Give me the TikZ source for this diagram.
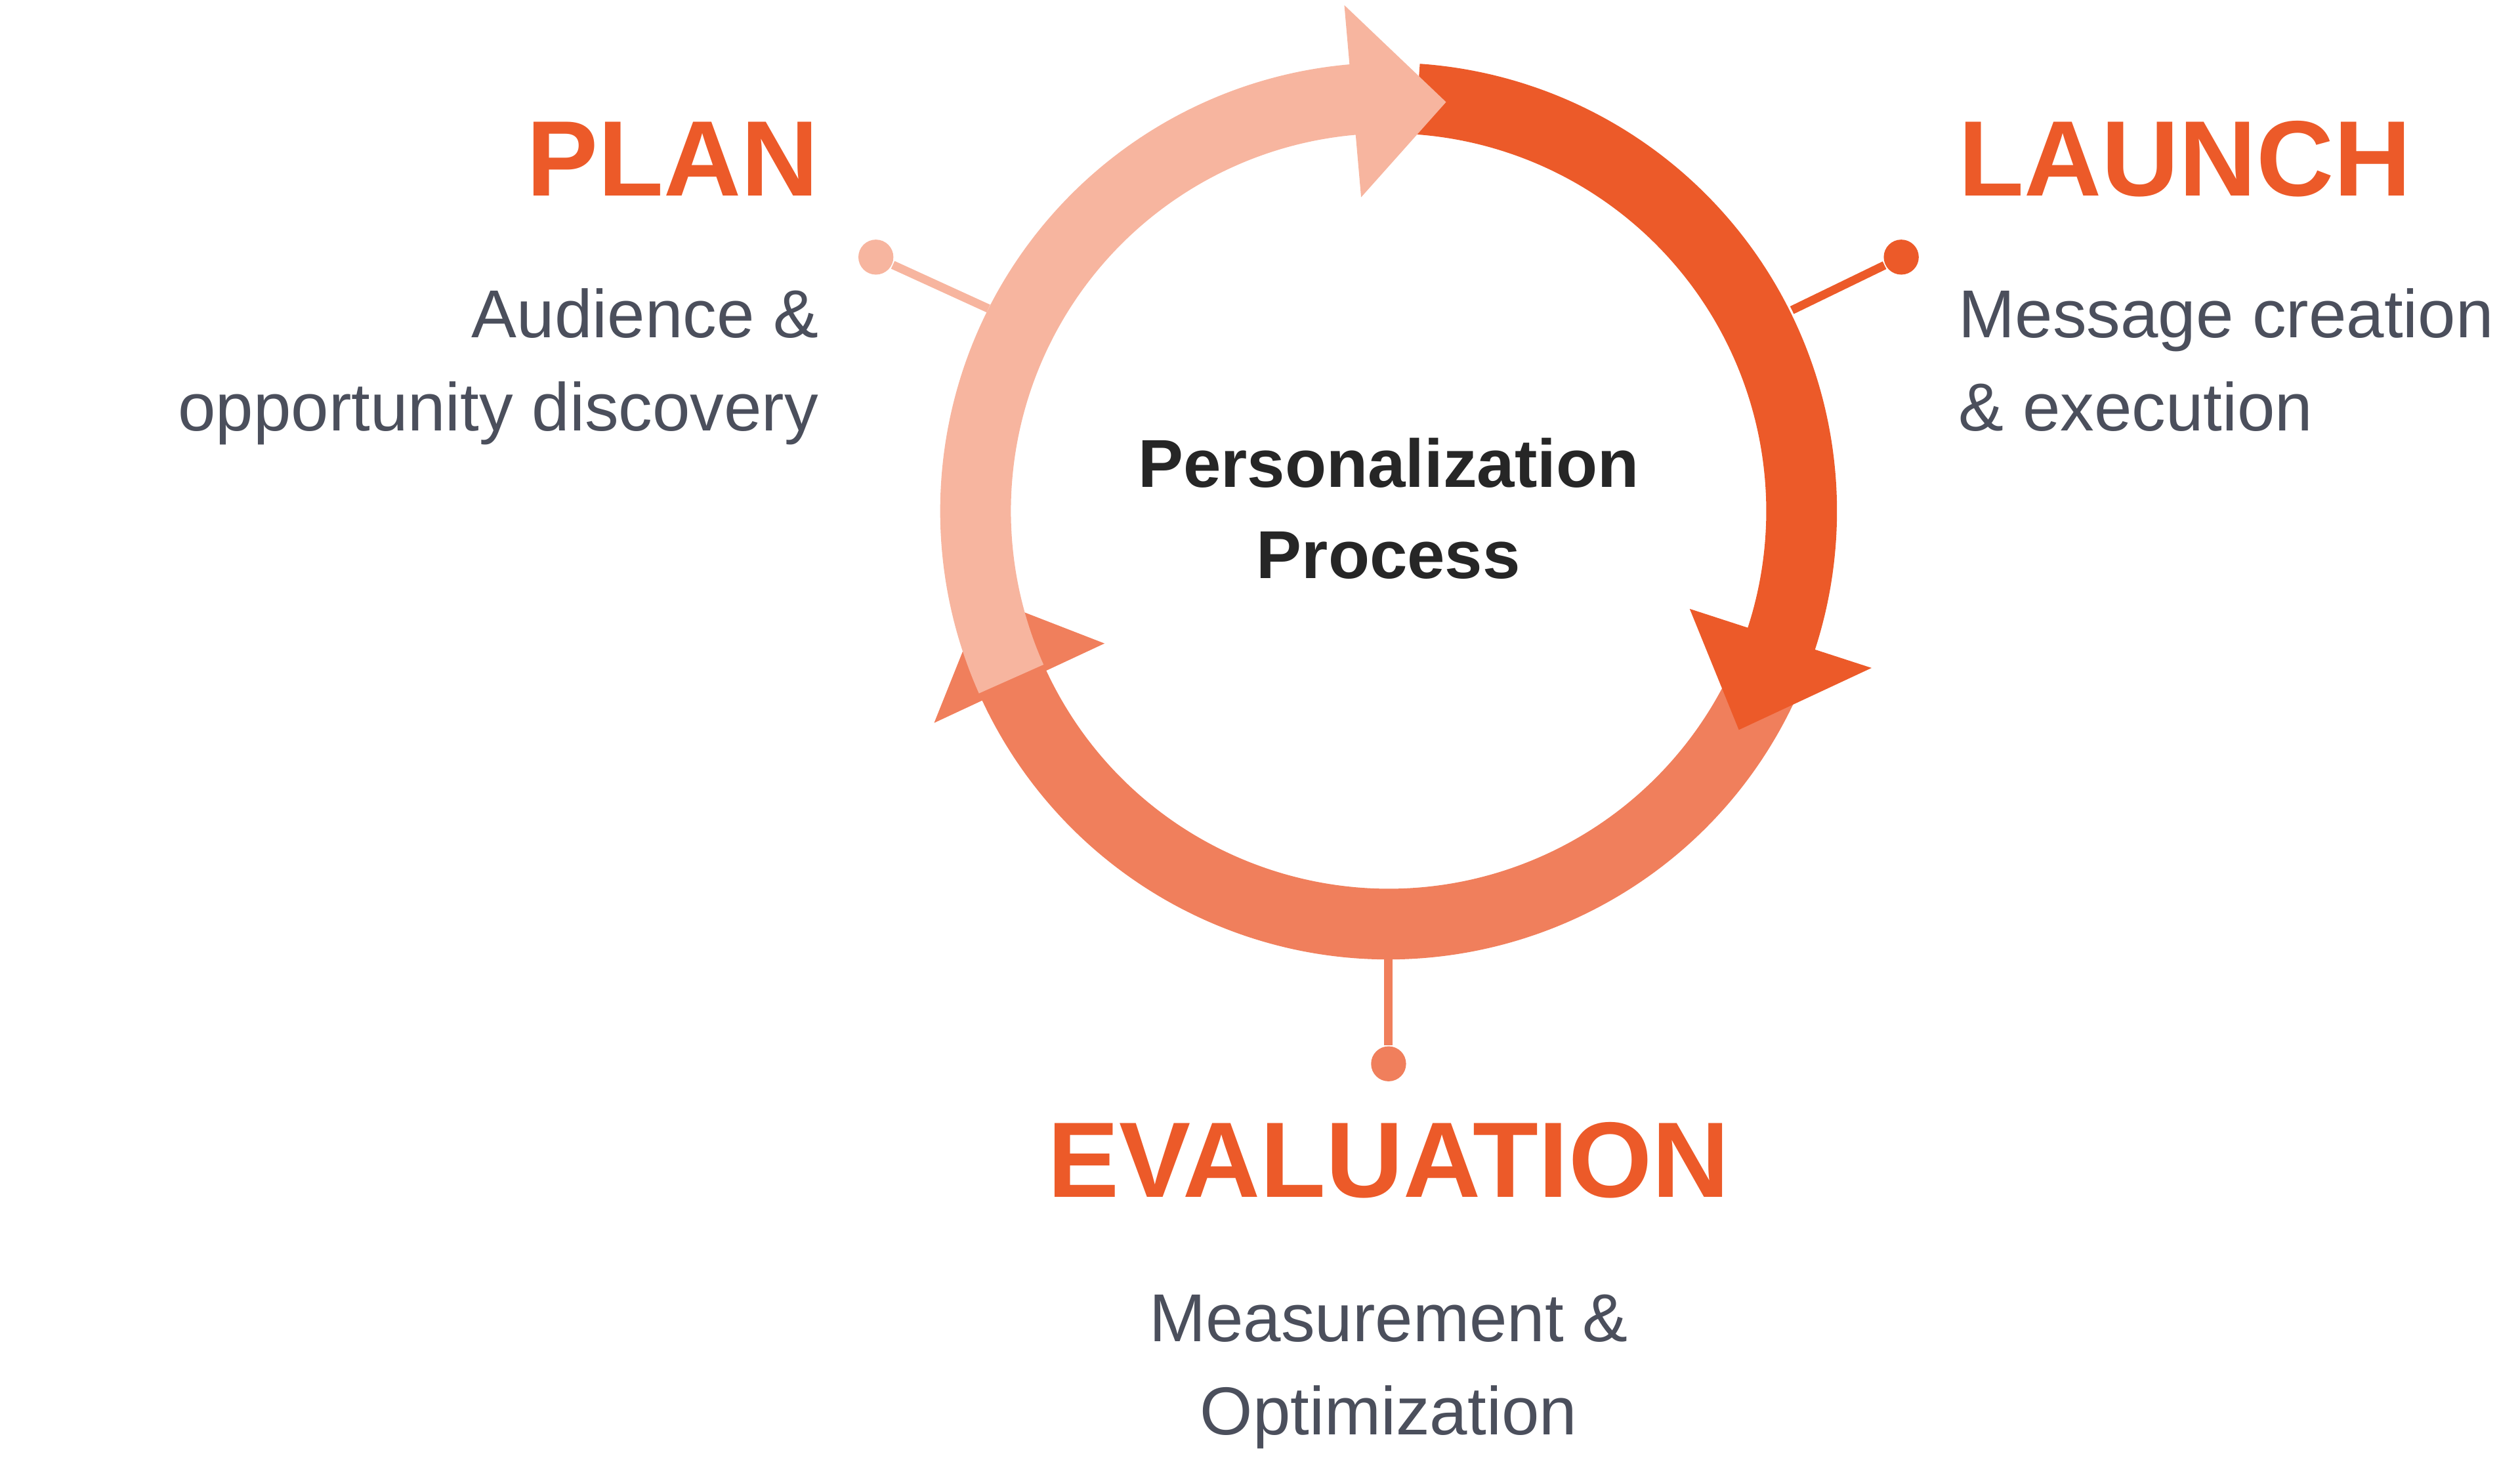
\documentclass[tikz,border=0pt]{standalone}
\usepackage{fontspec}
\setmainfont{Liberation Sans}
\usetikzlibrary{calc}
\definecolor{light}{HTML}{F7B59F}
\definecolor{dark}{HTML}{EC5A29}
\definecolor{mid}{HTML}{F07F5C}
\definecolor{txt}{HTML}{4B4F5C}
\begin{document}
\begin{tikzpicture}[x=0.1mm,y=0.1mm,
 head/.style={font=\bfseries\fontsize{19}{22}\selectfont,text=dark,inner sep=0},
 sub/.style={font=\fontsize{12}{14}\selectfont,text=txt,inner sep=0},
 ctr/.style={font=\bfseries\fontsize{12}{14}\selectfont,text=black!85,inner sep=0},
 pin/.style={line width=1.5pt},
 dot/.style={circle,inner sep=0,minimum size=6.2pt}]
\useasboundingbox (0,0) rectangle (1568,907);
\coordinate (c) at (864,589);
\def\ro{279}\def\ri{235}\def\rm{257}
% medium arc: -25 to -155, head tip at -168
\fill[mid] ($(c)+(-25:\ro)$) arc[start angle=-25,end angle=-155,radius=\ro]
  -- ($(c)+(-155:312)$) -- ($(c)+(-168:\rm)$) -- ($(c)+(-155:195)$)
  -- ($(c)+(-155:\ri)$) arc[start angle=-155,end angle=-25,radius=\ri] -- cycle;
% dark arc: 86 to -18, tip at -32
\fill[dark] ($(c)+(86:\ro)$) arc[start angle=86,end angle=-18,radius=\ro]
  -- ($(c)+(-18:316)$) -- ($(c)+(-32:\rm)$) -- ($(c)+(-18:197)$)
  -- ($(c)+(-18:\ri)$) arc[start angle=-18,end angle=86,radius=\ri] -- cycle;
% light arc: 204 to 95, tip at 82
\fill[light] ($(c)+(204:\ro)$) arc[start angle=204,end angle=95,radius=\ro]
  -- ($(c)+(95:316)$) -- ($(c)+(82:\rm)$) -- ($(c)+(95:196)$)
  -- ($(c)+(95:\ri)$) arc[start angle=95,end angle=204,radius=\ri] -- cycle;
% pins
\coordinate (pp) at (615,715);
\node[dot,fill=light] (pd) at (545,747) {};
\draw[pin,light] (pp) -- (pd);
\coordinate (lp) at (1115,714);
\node[dot,fill=dark] (ld) at (1183,747) {};
\draw[pin,dark] (lp) -- (ld);
\coordinate (ep) at (864,311);
\node[dot,fill=mid] (ed) at (864,245) {};
\draw[pin,mid] (ep) -- (ed);
% texts
\node[head,anchor=base east] (plan) at (510,785) {PLAN};
\node[sub,anchor=base east] (p1) at (510,697) {Audience \&};
\node[sub,anchor=base east] (p2) at (510,639) {opportunity discovery};
\node[head,anchor=base west] (launch) at (1218,785) {LAUNCH};
\node[sub,anchor=base west] (l1) at (1218,697) {Message creation};
\node[sub,anchor=base west] (l2) at (1218,639) {\& execution};
\node[head,anchor=base] (eval) at (864,162) {EVALUATION};
\node[sub,anchor=base] (e1) at (864,72) {Measurement \&};
\node[sub,anchor=base] (e2) at (864,14) {Optimization};
\node[ctr,anchor=base] (c1) at (864,604) {Personalization};
\node[ctr,anchor=base] (c2) at (864,547) {Process};
\end{tikzpicture}
\end{document}
